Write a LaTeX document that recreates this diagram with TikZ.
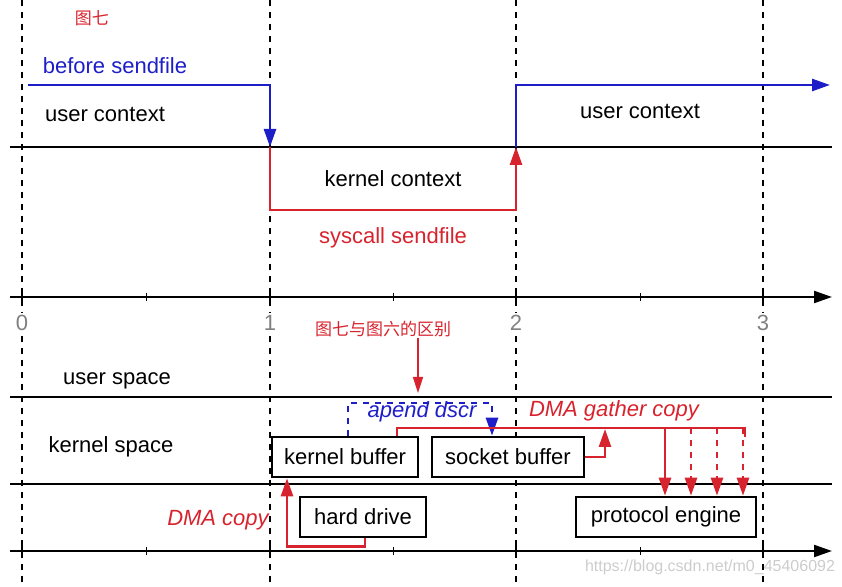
\documentclass[tikz,border=0pt]{standalone}
\usepackage{fontspec}
\setmainfont{Liberation Sans}
\newfontfamily\cjk{Noto Sans CJK SC}
\usetikzlibrary{arrows.meta}
\definecolor{ctxblue}{RGB}{30,30,200}
\definecolor{sysred}{RGB}{215,35,45}
\begin{document}
\begin{tikzpicture}[x=0.5pt,y=-0.5pt,font=\fontsize{11}{13}\selectfont,
  every node/.style={inner sep=0pt},
  axis/.style={line width=1.1pt,-{Triangle[length=9pt,width=6pt]}},
  level/.style={line width=1.1pt},
  grid/.style={dashed,line width=0.7pt},
  buf/.style={draw,line width=1.3pt,fill=white,minimum height=20pt},
  bluearr/.style={ctxblue,line width=1.3pt,-{Triangle[length=9pt,width=6pt]}},
  redarr/.style={sysred,line width=1.3pt,-{Triangle[length=9pt,width=6pt]}}]
\useasboundingbox (0,0) rectangle (842,587);
% time grid
\foreach \x in {22,270,516,763}
  \draw [grid] (\x,0) -- (\x,587);
\draw [axis] (10,297) -- (832,297);
\draw [axis] (10,551) -- (832,551);
\foreach \x/\t in {22/0,270/1,516/2,763/3} {
  \draw [line width=1.1pt] (\x,290) -- (\x,304);
  \draw [line width=1.1pt] (\x,544) -- (\x,558);
  \node [gray,fill=white,inner sep=1pt] at (\x,323) {\t};
}
\foreach \x in {146,393,640} {
  \draw (\x,293) -- (\x,301);
  \draw (\x,547) -- (\x,555);
}
% contexts
\draw [level] (10,147) -- (832,147);
\node [sysred,font=\cjk\fontsize{8.5}{10}\selectfont] (fig) at (92,18) {图七};
\node [ctxblue] (before) at (115,66) {before sendfile};
\node (uctxa) at (105,115) {user context};
\node (uctxb) at (640,112) {user context};
\node (kctx) at (393,179) {kernel context};
\node [sysred] (sysc) at (393,238) {syscall sendfile};
\coordinate (b0) at (28,85);
\coordinate (b1) at (270,147);
\coordinate (r1) at (516,147);
\coordinate (b2) at (830,85);
\draw [bluearr] (b0) -| (b1);
\draw [redarr] (b1) -- (270,210) -| (r1);
\draw [bluearr] (r1) |- (b2);
% spaces
\node [sysred,font=\cjk\fontsize{8.5}{10}\selectfont] (diff) at (383,329) {图七与图六的区别};
\draw [sysred,line width=0.8pt,-{Triangle[length=8pt,width=5pt]}] (418,338) -- (418,393);
\draw [level] (10,397) -- (832,397);
\draw [level] (10,484) -- (832,484);
\node (uspace) at (117,381) {user space};
\node (kspace) at (111,447) {kernel space};
\node [buf,minimum width=73pt] (kbuf) at (345,457) {kernel buffer};
\node [buf,minimum width=76pt] (sbuf) at (508,457) {socket buffer};
\node [buf,minimum width=63pt] (hd) at (363,517) {hard drive};
\node [buf,minimum width=90pt] (pe) at (666,517) {protocol engine};
% copies
\node [sysred,font=\itshape\fontsize{11}{13}\selectfont] (dmac) at (218,520) {DMA copy};
\draw [redarr] ([xshift=1pt]hd.south) -- ++(0,8) -| ([xshift=-29pt]kbuf.south);
\node [ctxblue,font=\itshape\fontsize{11}{13}\selectfont] (apd) at (422,412) {apend dscr};
\draw [ctxblue,line width=1.3pt,dashed,-{Triangle[length=9pt,width=6pt]}]
  ([xshift=1.5pt]kbuf.north) |- (492,403) -- (sbuf.north -| 492,0);
\node [sysred,font=\itshape\fontsize{11}{13}\selectfont] (dmag) at (614,411) {DMA gather copy};
\coordinate (g0) at (397,428);
\coordinate (g1) at (745,428);
\draw [sysred,line width=1.3pt] (kbuf.north -| g0) -- (g0) -- (g1) -- (745,437);
\draw [redarr] (sbuf.east) -- (605,457) -- (605,429);
\draw [redarr] (665,428) -- (pe.north -| 665,0);
\foreach \x in {691,717,743}
  \draw [redarr,dashed] (\x,428) -- (pe.north -| \x,0);
\node [gray!40,font=\fontsize{8}{10}\selectfont] (wm) at (710,567) {https://blog.csdn.net/m0\_45406092};
\end{tikzpicture}
\end{document}
